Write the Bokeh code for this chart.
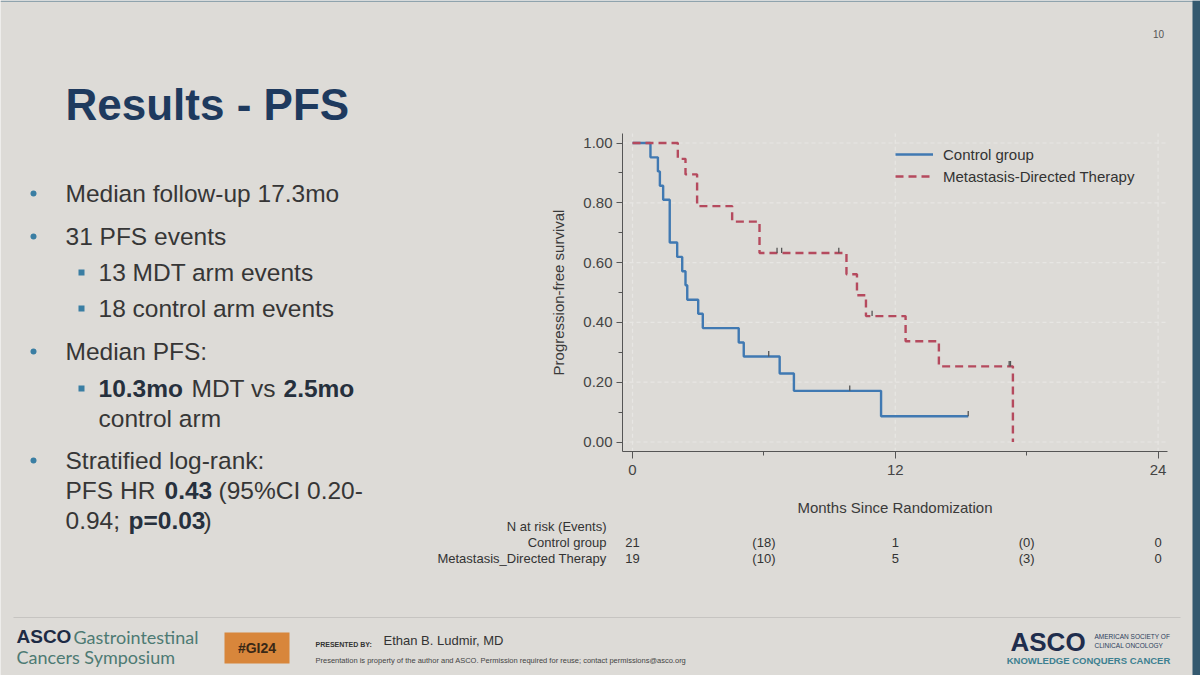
from bokeh.plotting import figure
from bokeh.models import Legend, LegendItem, FixedTicker, NumeralTickFormatter, Range1d
from bokeh.core.properties import value
from bokeh.embed import file_html
from bokeh.resources import INLINE

# ---------------- data ----------------
group_names = ["Control group", "Metastasis-Directed Therapy"]
ctrl_time = [0.0, 0.82, 1.16, 1.25, 1.40, 1.70, 2.04, 2.27, 2.42, 2.50, 3.00, 3.21,
             4.85, 5.08, 6.72, 7.37, 11.35, 15.33]
ctrl_surv = [1.000, 0.952, 0.905, 0.857, 0.810, 0.667, 0.619, 0.571, 0.524, 0.476, 0.429, 0.381,
             0.333, 0.286, 0.229, 0.171, 0.086, 0.086]
ctrl_cens_time = [6.22, 9.92, 15.33]
ctrl_cens_surv = [0.286, 0.171, 0.086]

mdt_time = [0.0, 2.07, 2.42, 2.95, 4.55, 5.80, 9.77, 10.25, 10.66, 12.47, 13.99, 17.37]
mdt_surv = [1.000, 0.947, 0.895, 0.789, 0.737, 0.632, 0.561, 0.491, 0.421, 0.337, 0.253, 0.000]
mdt_cens_time = [6.60, 6.81, 9.42, 10.94, 17.20, 17.26]
mdt_cens_surv = [0.632, 0.632, 0.632, 0.421, 0.253, 0.253]

risk_times = [0, 6, 12, 18, 24]
risk_header = "N at risk (Events)"
risk_names = ["Control group", "Metastasis_Directed Therapy"]
risk_ctrl = ["21", "(18)", "1", "(0)", "0"]
risk_mdt = ["19", "(10)", "5", "(3)", "0"]

x_major = [0, 12, 24]
x_minor = [6, 18]
y_major = [0.0, 0.2, 0.4, 0.6, 0.8, 1.0]
y_minor = [0.1, 0.3, 0.5, 0.7, 0.9]

# ---------------- styling / placement ----------------
BG = "#dddbd7"
BLUE = "#4079b2"
RED = "#b54a5e"
FONT = "Liberation Sans"
TITLE = "#1e3a5e"
TEAL = "#3a7ea3"
TXT = "#363636"
BTXT = "#26303d"
STRIP = "#34596f"

W, H = 1200, 675
PX_X0, PX_PER_MO = 632.0, 21.9      # page x of month 0, pixels per month
PY_Y0, PX_PER_UNIT = 441.5, 299.0   # page y of survival 0, pixels per unit
SPINE_L, SPINE_R, SPINE_T, SPINE_B = 622, 1167, 133, 451.3


def mx(px):   # page x -> data x
    return (px - PX_X0) / PX_PER_MO


def my(py):   # page y -> data y
    return (PY_Y0 - py) / PX_PER_UNIT


p = figure(width=W, height=H, output_backend="svg", toolbar_location=None,
           x_range=Range1d(mx(0), mx(W)), y_range=Range1d(my(H), my(0)), min_border=0)
p.background_fill_color = BG
p.border_fill_color = BG
p.outline_line_color = None
p.xgrid.visible = False
p.ygrid.visible = False

# ---------- axes placed on the KM panel ----------
xa, ya = p.xaxis[0], p.yaxis[0]
xa.fixed_location = my(SPINE_B)
ya.fixed_location = mx(SPINE_L)
xa.bounds = (mx(SPINE_L), mx(SPINE_R))
ya.bounds = (my(SPINE_B), my(SPINE_T))
xa.ticker = FixedTicker(ticks=x_major, minor_ticks=x_minor)
ya.ticker = FixedTicker(ticks=y_major, minor_ticks=y_minor)
ya.formatter = NumeralTickFormatter(format="0.00")
for ax in (xa, ya):
    ax.axis_line_color = "#555555"
    ax.major_tick_line_color = "#555555"
    ax.minor_tick_line_color = "#555555"
    ax.major_tick_in = 0
    ax.minor_tick_in = 0
    ax.major_label_text_font = FONT
    ax.major_label_text_font_size = "15px"
    ax.major_label_text_color = "#444444"
    ax.axis_label_text_font = FONT
    ax.axis_label_text_font_size = "15px"
    ax.axis_label_text_font_style = "normal"
    ax.axis_label_text_color = "#3a3a3a"
xa.major_tick_out = 7
xa.minor_tick_out = 4
xa.major_label_standoff = 6
xa.axis_label = "Months Since Randomization"
xa.axis_label_standoff = 21
ya.major_tick_out = 6
ya.minor_tick_out = 4
ya.major_label_standoff = 4
ya.axis_label = "Progression-free survival"
ya.axis_label_standoff = 13

# grid lines at the labelled ticks, inside the KM panel
p.segment(x0=[mx(SPINE_L)] * len(y_major), x1=[mx(SPINE_R)] * len(y_major),
          y0=y_major, y1=y_major, line_color="#e7e6e3", line_dash="4 3", line_width=1.2)
p.segment(x0=x_major, x1=x_major, y0=[my(SPINE_B)] * len(x_major),
          y1=[my(SPINE_T)] * len(x_major), line_color="#e7e6e3", line_dash="4 3",
          line_width=1.2)

# ---------- curves ----------
r_ctrl = p.step(ctrl_time, ctrl_surv, mode="after", line_color=BLUE, line_width=2.4)
r_mdt = p.step(mdt_time, mdt_surv, mode="after", line_color=RED, line_width=2.4,
               line_dash="8 5")
p.segment(x0=ctrl_cens_time, y0=ctrl_cens_surv, x1=ctrl_cens_time,
          y1=[s + 0.018 for s in ctrl_cens_surv], line_color="#555555", line_width=1.3)
p.segment(x0=mdt_cens_time, y0=mdt_cens_surv, x1=mdt_cens_time,
          y1=[s + 0.018 for s in mdt_cens_surv], line_color="#555555", line_width=1.3)

legend = Legend(items=[LegendItem(label=group_names[0], renderers=[r_ctrl]),
                       LegendItem(label=group_names[1], renderers=[r_mdt])],
                location=(895, H - 186), glyph_width=38, glyph_height=20,
                label_height=20, label_standoff=10, spacing=2, padding=0, margin=0,
                background_fill_alpha=0, border_line_color=None,
                label_text_font=FONT, label_text_font_size="15px",
                label_text_color="#333333")
p.add_layout(legend)


def txt(xp, yp, s, size, color=TXT, bold=False, font=FONT, align="left"):
    p.text(x=[mx(xp)], y=[my(yp)], text=[s], text_font=value(font),
           text_font_size=value(f"{size}px"),
           text_font_style="bold" if bold else "normal",
           text_color=color, text_align=align, text_baseline="middle")


def box(x0, y0, x1, y1, color):
    p.quad(left=mx(x0), right=mx(x1), top=my(y0), bottom=my(y1),
           fill_color=color, line_color=None)


# ---------- risk table (values at the month ticks) ----------
RS = 13
txt(606, 526, risk_header, RS, "#333333", align="right")
row_y = [542, 557.5]
for yy, name, vals in zip(row_y, risk_names, [risk_ctrl, risk_mdt]):
    txt(606, yy, name, RS, "#333333", align="right")
    p.text(x=risk_times, y=[my(yy)] * len(risk_times), text=vals, text_font=value(FONT),
           text_font_size=value(f"{RS}px"), text_color="#333333", text_align="center",
           text_baseline="middle")

# ---------- slide frame ----------
box(0, 0, 1200, 1.5, "#8fa3ad")
box(1192, 0, 1200, 675, STRIP)
txt(1158, 33, "10", 10, "#555555", align="center")

# ---------- title and bullets ----------
txt(65, 104, "Results - PFS", 44, TITLE, bold=True)
bul = 24.5
p.scatter(x=[mx(33)] * 4, y=[my(v) for v in (193, 236, 351, 460)], marker="circle",
          size=6, fill_color=TEAL, line_color=None)
p.scatter(x=[mx(81)] * 3, y=[my(v) for v in (272, 308, 388)], marker="square",
          size=6, fill_color=TEAL, line_color=None)
lines = [
    (193, [(65, "Median follow-up 17.3mo", False)]),
    (236, [(65, "31 PFS events", False)]),
    (272, [(98, "13 MDT arm events", False)]),
    (308, [(98, "18 control arm events", False)]),
    (351, [(65, "Median PFS:", False)]),
    (388, [(98, "10.3mo", True), (191, "MDT vs", False), (283, "2.5mo", True)]),
    (418, [(98, "control arm", False)]),
    (460, [(65, "Stratified log-rank:", False)]),
    (490, [(65, "PFS HR", False), (164, "0.43", True), (218, "(95%CI 0.20-", False)]),
    (520, [(65, "0.94;", False), (128, "p=0.03", True), (203, ")", False)]),
]
for yy, segs in lines:
    for xx, s, b in segs:
        txt(xx, yy, s, bul, BTXT if b else TXT, bold=b)

# ---------- footer ----------
p.segment(x0=[mx(13)], y0=[my(617)], x1=[mx(1180)], y1=[my(617)], line_color="#c6c4c1",
          line_width=1.2)
txt(16, 636, "ASCO", 19, "#1d2b45", bold=True)
txt(73, 636, "Gastrointestinal", 18, "#4d7a73", font="Lato")
txt(16, 656, "Cancers Symposium", 18, "#4d7a73", font="Lato")
box(224, 632, 289, 663, "#d8863b")
txt(256.5, 647.5, "#GI24", 14, "#3a2816", bold=True, align="center")
txt(315, 644, "PRESENTED BY:", 7, "#333333", bold=True)
txt(383, 640, "Ethan B. Ludmir, MD", 13, "#333333")
txt(315, 660, "Presentation is property of the author and ASCO. Permission required for "
    "reuse; contact permissions@asco.org", 7.5, "#444444")
txt(1010, 641, "ASCO", 26, "#1f2d4d", bold=True)
txt(1094, 636, "AMERICAN SOCIETY OF", 6.5, "#2c3e5c")
txt(1094, 645, "CLINICAL ONCOLOGY", 6.5, "#2c3e5c")
txt(1088, 660, "KNOWLEDGE CONQUERS CANCER", 9.5, "#3c8090", bold=True, align="center")

open("out.html", "w").write(file_html(p, INLINE))
